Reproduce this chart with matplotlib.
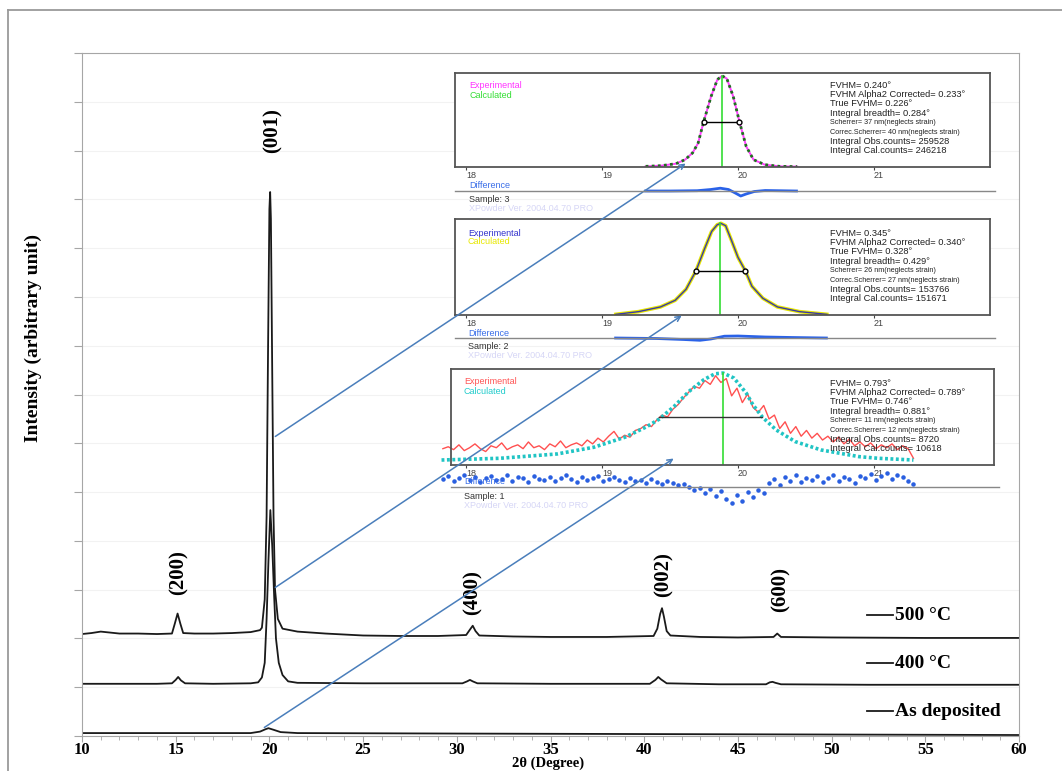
import numpy as np
import matplotlib.pyplot as plt
from matplotlib.lines import Line2D
from matplotlib.patches import FancyArrowPatch

W, H = 1062, 771

# ---- main XRD patterns (2theta in degree, intensity in arbitrary units) ----
x500 = [10, 10.5, 11, 11.5, 12, 13, 14, 14.8, 14.95, 15.1, 15.25, 15.4, 16, 17, 18, 19, 19.5,
        19.6, 19.75, 19.85, 19.93, 20.0, 20.04, 20.08, 20.15, 20.22, 20.3, 20.45, 20.7, 21.5,
        23, 25, 27, 29, 30.5, 30.7, 30.85, 31.0, 31.2, 33, 35, 38, 40.5, 40.7, 40.85, 40.95,
        41.05, 41.2, 41.4, 43, 45, 46.9, 47.1, 47.3, 50, 55, 60]
y500 = [2.09, 2.11, 2.14, 2.12, 2.10, 2.10, 2.09, 2.10, 2.30, 2.51, 2.30, 2.11, 2.10, 2.10, 2.11, 2.13, 2.17,
        2.22, 2.8, 4.5, 8.0, 10.8, 11.15, 10.6, 7.5, 4.5, 3.0, 2.4, 2.2, 2.14,
        2.10, 2.06, 2.05, 2.05, 2.07, 2.18, 2.26, 2.15, 2.06, 2.04, 2.03, 2.03, 2.05, 2.20, 2.50, 2.62,
        2.45, 2.15, 2.06, 2.03, 2.02, 2.03, 2.10, 2.03, 2.02, 2.01, 2.01]

x400 = [10, 12, 14, 14.8, 15.0, 15.13, 15.28, 15.5, 17, 19, 19.4, 19.6, 19.75, 19.85, 19.95,
        20.05, 20.15, 20.25, 20.35, 20.5, 20.7, 21.0, 21.5, 25, 30.3, 30.55, 30.7, 30.85, 31.1,
        35, 40.3, 40.6, 40.75, 40.9, 41.2, 44, 46.5, 46.7, 46.85, 47.0, 47.3, 52, 60]
y400 = [1.07, 1.07, 1.07, 1.08, 1.15, 1.21, 1.14, 1.08, 1.07, 1.08, 1.10, 1.20, 1.50, 2.4, 3.6,
        4.63, 3.9, 2.9, 2.0, 1.5, 1.25, 1.12, 1.09, 1.08, 1.08, 1.12, 1.15, 1.12, 1.08,
        1.07, 1.07, 1.15, 1.21, 1.16, 1.08, 1.06, 1.06, 1.10, 1.11, 1.09, 1.06, 1.05, 1.05]

xdep = [10, 15, 19.0, 19.5, 19.8, 19.95, 20.2, 20.6, 21.5, 30, 40, 50, 60]
ydep = [0.06, 0.06, 0.06, 0.09, 0.14, 0.16, 0.13, 0.08, 0.06, 0.05, 0.04, 0.03, 0.02]

peak_labels = ['(001)', '(200)', '(400)', '(002)', '(600)']
peak_label_x = [20.15, 15.13, 30.83, 41.04, 47.3]
peak_label_y = [12.4, 3.36, 2.95, 3.3, 3.0]

series_names = ['500 °C', '400 °C', 'As deposited']

# ---- inset 1 (sample 3) ----
s3_x = [19.321, 19.435, 19.543, 19.611, 19.666, 19.707, 19.747, 19.802, 19.848, 19.883,
        19.918, 19.965, 20.011, 20.060, 20.114, 20.196, 20.304, 20.435]
s3_y = [0.007, 0.014, 0.035, 0.078, 0.15, 0.255, 0.48, 0.75, 0.93, 0.97,
        0.94, 0.75, 0.48, 0.22, 0.078, 0.025, 0.007, 0.004]
s3_dx = [19.32, 19.5, 19.7, 19.8, 19.87, 19.93, 19.98, 20.02, 20.06, 20.12, 20.2, 20.43]
s3_dy = [0, 0, 0.3, 1.5, 2.8, 1.5, -2, -5, -3, -0.5, 0.5, 0]
s3_stats = ['FVHM= 0.240°', 'FVHM Alpha2 Corrected= 0.233°', 'True FVHM= 0.226°',
            'Integral breadth= 0.284°', 'Scherrer= 37 nm(neglects strain)',
            'Correc.Scherrer= 40 nm(neglects strain)', 'Integral Obs.counts= 259528',
            'Integral Cal.counts= 246218']

# ---- inset 2 (sample 2) ----
s2_x = [19.102, 19.269, 19.430, 19.538, 19.618, 19.691, 19.753, 19.806, 19.847, 19.874,
        19.909, 19.954, 20.000, 20.054, 20.102, 20.183, 20.290, 20.452, 20.653]
s2_y = [0.007, 0.035, 0.084, 0.153, 0.268, 0.46, 0.686, 0.87, 0.94, 0.955,
        0.93, 0.77, 0.6, 0.46, 0.3, 0.174, 0.084, 0.035, 0.007]
s2_dx = [19.10, 19.4, 19.6, 19.72, 19.8, 19.9, 20.0, 20.2, 20.4, 20.65]
s2_dy = [0, -0.5, -1.5, -2.3, -1, 1.8, 2.0, 1.0, 0.5, 0]
s2_stats = ['FVHM= 0.345°', 'FVHM Alpha2 Corrected= 0.340°', 'True FVHM= 0.328°',
            'Integral breadth= 0.429°', 'Scherrer= 26 nm(neglects strain)',
            'Correc.Scherrer= 27 nm(neglects strain)', 'Integral Obs.counts= 153766',
            'Integral Cal.counts= 151671']

# ---- inset 3 (sample 1) ----
s1_cx = [17.82, 18.25, 18.67, 18.94, 19.17, 19.33, 19.42, 19.53, 19.64, 19.75, 19.83, 19.89,
         19.97, 20.06, 20.11, 20.18, 20.28, 20.42, 20.61, 20.75, 20.89, 21.03, 21.29]
s1_cy = [0.052, 0.07, 0.115, 0.185, 0.29, 0.40, 0.477, 0.61, 0.767, 0.89, 0.95, 0.958,
         0.906, 0.75, 0.627, 0.498, 0.366, 0.244, 0.157, 0.122, 0.087, 0.07, 0.052]
s1_exp = [0.17, 0.19, 0.16, 0.21, 0.15, 0.18, 0.22, 0.17, 0.14, 0.2, 0.18, 0.23, 0.16, 0.19, 0.21,
          0.17, 0.24, 0.18, 0.2, 0.16, 0.22, 0.19, 0.25, 0.18, 0.21,
          0.23, 0.2, 0.26, 0.22, 0.28, 0.24, 0.3, 0.35, 0.27, 0.31, 0.29, 0.36,
          0.38, 0.42, 0.4, 0.47, 0.52, 0.5, 0.58, 0.63,
          0.7, 0.76, 0.82, 0.8, 0.88, 0.84, 0.93, 0.86,
          0.9, 0.72, 0.8, 0.65, 0.74, 0.6, 0.55, 0.62,
          0.48, 0.52, 0.38, 0.45, 0.33, 0.4, 0.3, 0.36,
          0.28, 0.33, 0.26, 0.3, 0.24, 0.29, 0.22, 0.27, 0.2, 0.24,
          0.19, 0.23, 0.17, 0.21, 0.18, 0.22, 0.16, 0.2, 0.17, 0.07]
s1_diff = [8, 11, 6, 9, 12, 7, 10, 5, 9, 11, 7, 8, 12, 6, 10, 9, 5, 11, 8, 7, 10, 6, 9, 12, 8,
           5, 10, 7, 9, 11, 6, 8, 10, 7, 5, 9, 6,
           7, 4, 8, 5, 3, 6, 4, 2,
           3, 0, -3, -1, -6, -2, -9, -4,
           -12, -16, -8, -14, -5, -10, -3, -6,
           4, 8, 2, 10, 6, 12, 5, 9,
           7, 11, 5, 9, 12, 6, 10, 8, 4, 11,
           9, 13, 7, 11, 14, 8, 12, 10, 6, 3]
s1_stats = ['FVHM= 0.793°', 'FVHM Alpha2 Corrected= 0.789°', 'True FVHM= 0.746°',
            'Integral breadth= 0.881°', 'Scherrer= 11 nm(neglects strain)',
            'Correc.Scherrer= 12 nm(neglects strain)', 'Integral Obs.counts= 8720',
            'Integral Cal.counts= 10618']

SERIF = 'Liberation Serif'
SANS = 'Liberation Sans'


def fx(px):
    return px / W


def fy(py):
    return 1 - py / H


fig = plt.figure(figsize=(10.62, 7.71), dpi=100)

# outer frame
fig.add_artist(Line2D([fx(8), 1], [fy(10), fy(10)], color='#9a9a9a', lw=1.3))
fig.add_artist(Line2D([fx(8), fx(8)], [0, fy(10)], color='#9a9a9a', lw=1.3))

# main axes
ax = fig.add_axes([fx(82), fy(736), (1019 - 82) / W, (736 - 53) / H])
ax.plot(x500, y500, color='#1a1a1a', lw=1.3)
ax.plot(x400, y400, color='#1a1a1a', lw=1.3)
ax.plot(xdep, ydep, color='#1a1a1a', lw=1.3)
ax.set_xlim(10, 60)
ax.set_ylim(0, 14)
ax.set_xticks(range(10, 61, 5))
ax.set_xticks(range(10, 61, 1), minor=True)
ax.set_yticks(range(0, 15))
ax.set_yticklabels([])
for s in ax.spines.values():
    s.set_color('#a6a6a6')
ax.tick_params(axis='y', colors='#a6a6a6', length=6)
ax.tick_params(axis='x', which='major', colors='#a6a6a6', length=4, labelcolor='black', pad=0.5)
ax.tick_params(axis='x', which='minor', colors='#a6a6a6', length=3)
for t in ax.get_xticklabels():
    t.set_fontfamily(SERIF)
    t.set_fontweight('bold')
    t.set_fontsize(12)
ax.grid(axis='y', color='#f2f2f2', lw=0.8)
ax.set_axisbelow(True)

for lab, px_, py_ in zip(peak_labels, peak_label_x, peak_label_y):
    ax.text(px_, py_, lab, rotation=90, ha='center', va='center',
            fontfamily=SERIF, fontweight='bold', fontsize=15)

for name, ly in zip(series_names, [615, 663, 711]):
    fig.add_artist(Line2D([fx(867), fx(893)], [fy(ly), fy(ly)], color='#1a1a1a', lw=1.3))
    fig.text(fx(895), fy(ly), name, va='center', ha='left',
             fontfamily=SERIF, fontweight='bold', fontsize=14)

fig.text(fx(33), fy(338), 'Intensity (arbitrary unit)', rotation=90, ha='center', va='center',
         fontfamily=SERIF, fontweight='bold', fontsize=14)
fig.text(fx(548), fy(770.5), '2θ (Degree)', ha='center', va='bottom',
         fontfamily=SERIF, fontweight='bold', fontsize=10.5)


# ---- insets ----
X18, PPD = 466, 136.0


def make_inset(l, r, t, b):
    a = fig.add_axes([fx(l), fy(b), (r - l) / W, (b - t) / H])
    a.set_xlim(18 + (l - X18) / PPD, 18 + (r - X18) / PPD)
    a.set_ylim(0, 1)
    a.set_facecolor('white')
    for s in a.spines.values():
        s.set_color('#555555')
        s.set_linewidth(1.3)
    a.set_yticks([])
    a.set_xticks([18, 19, 20, 21], labels=['18', '19', '20', '21'])
    a.tick_params(axis='x', length=2, pad=1, labelsize=6.5, colors='#444444')
    for tl in a.get_xticklabels():
        tl.set_ha('left')
        tl.set_fontfamily(SANS)
    return a


def side_texts(a, l, r, t, b, xt, exp_col, cal_col, diff_py, stats, sample, ys):
    fig.text(fx(xt), fy(ys[0]), 'Experimental', color=exp_col, fontsize=6.5, fontfamily=SANS, va='center')
    fig.text(fx(xt), fy(ys[1]), 'Calculated', color=cal_col, fontsize=6.5, fontfamily=SANS, va='center')
    fig.text(fx(xt), fy(diff_py - 5), 'Difference', color='#3a6ee8', fontsize=6.5, fontfamily=SANS, va='center')
    fig.text(fx(xt), fy(diff_py + 9), sample, color='#333333', fontsize=6.5, fontfamily=SANS, va='center')
    fig.text(fx(xt), fy(diff_py + 18), 'XPowder Ver. 2004.04.70 PRO', color='#d6d6f6', fontsize=6.5,
             fontfamily=SANS, va='center')
    fig.add_artist(Line2D([fx(l), fx(r + 5)], [fy(diff_py), fy(diff_py)], color='#888888', lw=1))
    for i, s in enumerate(stats):
        small = 'Scherrer' in s
        fig.text(fx(830), fy(ys[2] + i * 9.4), s, fontsize=5.2 if small else 6.7,
                 fontfamily=SANS, va='center', color='#222222')


# inset 1
l, r, t, b = 455, 990, 73, 167
a1 = make_inset(l, r, t, b)
a1.plot(s3_x, s3_y, color='#ff40ff', lw=1.4)
a1.plot(s3_x, s3_y, color='#1f6f1f', lw=2, ls=(0, (1, 1.2)))
a1.plot([19.88, 19.88], [0, 0.97], color='#33dd33', lw=1.2)
a1.plot([19.75, 20.01], [0.48, 0.48], color='black', lw=1, marker='o', mfc='white', ms=3.5)
base = (b - 191) / (b - t)
a1.plot(s3_dx, [base + v / (b - t) for v in s3_dy], color='#2a62e8', lw=2, clip_on=False)
side_texts(a1, l, r, t, b, 469, '#ff33ff', '#33dd33', 191, s3_stats, 'Sample: 3', [86, 95, 85])

# inset 2
l, r, t, b = 455, 990, 219, 315
a2 = make_inset(l, r, t, b)
a2.plot(s2_x, s2_y, color='#e6e600', lw=2.6)
a2.plot(s2_x, s2_y, color='#3a3aa8', lw=1)
a2.plot([19.87, 19.87], [0, 0.955], color='#33dd33', lw=1.2)
a2.plot([19.69, 20.05], [0.46, 0.46], color='black', lw=1, marker='o', mfc='white', ms=3.5)
base = (b - 338) / (b - t)
a2.plot(s2_dx, [base + v / (b - t) for v in s2_dy], color='#2a62e8', lw=2, clip_on=False)
side_texts(a2, l, r, t, b, 468, '#3333cc', '#e8e800', 338, s2_stats, 'Sample: 2', [233, 242, 233])

# inset 3
l, r, t, b = 451, 994, 369, 465
a3 = make_inset(l, r, t, b)
ex = np.linspace(17.83, 21.29, len(s1_exp))
a3.plot(ex, s1_exp, color='#ff5050', lw=1, clip_on=False)
a3.plot(s1_cx, s1_cy, color='#20c4c4', lw=2.6, ls=(0, (0.8, 0.7)), clip_on=False)
a3.plot([19.89, 19.89], [0, 0.958], color='#33dd33', lw=1.2)
a3.plot([19.42, 20.18], [0.5, 0.5], color='#333333', lw=1)
base = (b - 487) / (b - t)
dx = np.linspace(17.83, 21.29, len(s1_diff))
side_texts(a3, l, r, t, b, 464, '#ff5555', '#22cccc', 487, s1_stats, 'Sample: 1', [382, 391, 383])
a3.scatter(dx, [base + v / (b - t) for v in s1_diff], s=5, color='#2a5fe0', clip_on=False, zorder=5)

# connecting arrows
for (x0, y0), (x1, y1) in [((273, 438), (688, 162)), ((273, 589), (684, 314)), ((262, 729), (676, 457))]:
    fig.add_artist(FancyArrowPatch((fx(x0), fy(y0)), (fx(x1), fy(y1)), transform=fig.transFigure,
                                   arrowstyle='->', mutation_scale=9, color='#4a7ebb', lw=1.1))

fig.savefig('out.png', dpi=100)
